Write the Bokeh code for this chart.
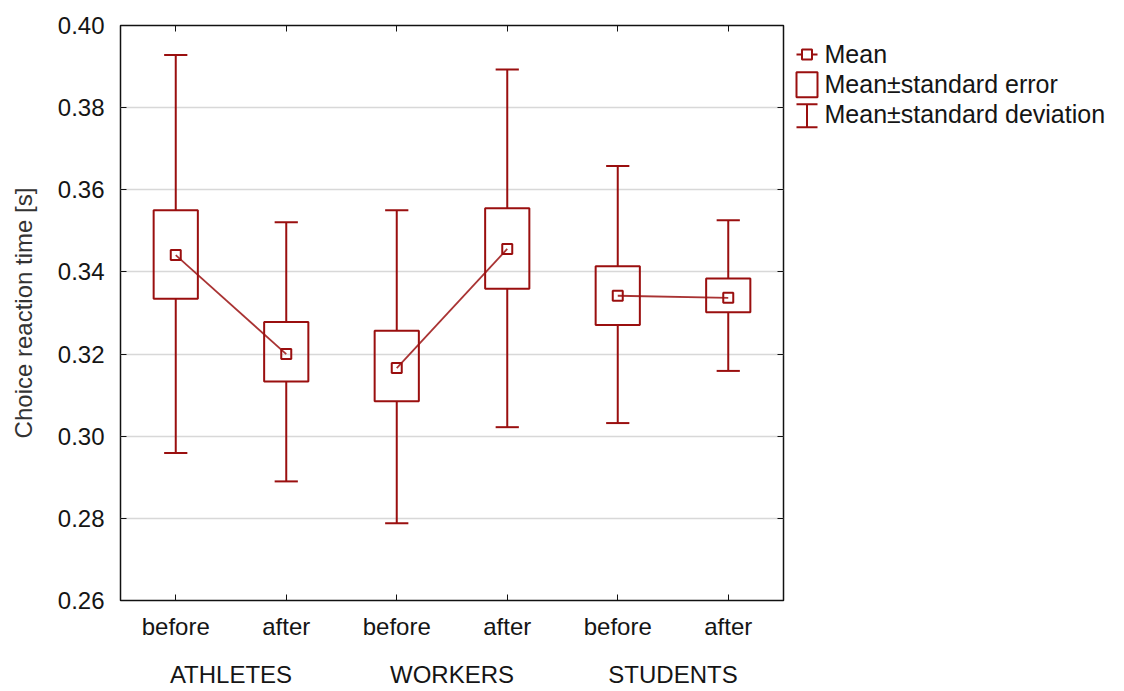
from bokeh.plotting import figure
from bokeh.models import Range1d, LinearAxis, FixedTicker, ColumnDataSource, PrintfTickFormatter
from bokeh.layouts import row
from bokeh.transform import dodge
from bokeh.embed import file_html
from bokeh.resources import INLINE
from bokeh.core.properties import value

# ---------------- data ----------------
groups = ["ATHLETES", "WORKERS", "STUDENTS"]
phases = ["before", "after"]
mean_vals = [0.3441, 0.3200, 0.3166, 0.3456, 0.3342, 0.3337]
se_hi = [0.3550, 0.3278, 0.3257, 0.3555, 0.3414, 0.3384]
se_lo = [0.3335, 0.3133, 0.3085, 0.3359, 0.3271, 0.3302]
sd_hi = [0.3928, 0.3521, 0.3550, 0.3893, 0.3658, 0.3526]
sd_lo = [0.2959, 0.2890, 0.2788, 0.3022, 0.3032, 0.3159]
y_ticks = [0.26, 0.28, 0.30, 0.32, 0.34, 0.36, 0.38, 0.40]
y_title = "Choice reaction time [s]"
legend_labels = ["Mean", "Mean\u00b1standard error", "Mean\u00b1standard deviation"]

RED = "#9a0f0f"
FONT = "Liberation Sans"
TXT = "#151515"

n = len(groups) * len(phases)
xpos = [i + 0.5 for i in range(n)]
src = ColumnDataSource(dict(x=xpos, mean=mean_vals, se_hi=se_hi, se_lo=se_lo,
                            sd_hi=sd_hi, sd_lo=sd_lo))

BL, BT, BR, BB = 120, 25, 8, 88
FW, FH = 663, 575
W = BL + FW + BR
H = BT + FH + BB

p = figure(frame_width=FW, frame_height=FH, x_range=Range1d(0, n),
           y_range=Range1d(y_ticks[0], y_ticks[-1]),
           min_border_left=BL, min_border_top=BT, min_border_right=BR, min_border_bottom=BB,
           output_backend="svg", toolbar_location=None, align="start")
p.outline_line_color = "#111111"
p.outline_line_width = 1.5
p.background_fill_color = "white"

# y axis (left)
ya = p.yaxis[0]
ya.ticker = FixedTicker(ticks=y_ticks)
ya.formatter = PrintfTickFormatter(format="%.2f")
ya.major_tick_in = 6
ya.major_tick_out = 0
ya.minor_tick_line_color = None
ya.axis_line_color = None
ya.major_tick_line_color = "#111111"
ya.major_label_standoff = 16
ya.major_label_text_font = FONT
ya.major_label_text_font_size = "24px"
ya.major_label_text_color = TXT
ya.axis_label = y_title
ya.axis_label_text_font = FONT
ya.axis_label_text_font_size = "24px"
ya.axis_label_text_font_style = "normal"
ya.axis_label_text_color = "#333333"
ya.axis_label_standoff = 18

# x axis (bottom, phases)
xa = p.xaxis[0]
xa.ticker = FixedTicker(ticks=xpos)
xa.major_label_overrides = {x: phases[i % len(phases)] for i, x in enumerate(xpos)}
xa.major_tick_in = 6
xa.major_tick_out = 0
xa.minor_tick_line_color = None
xa.axis_line_color = None
xa.major_tick_line_color = "#111111"
xa.major_label_standoff = 12
xa.major_label_text_font = FONT
xa.major_label_text_font_size = "24px"
xa.major_label_text_color = TXT

# group labels (second bottom axis)
gpos = [2 * g + 1 for g in range(len(groups))]
ga = LinearAxis(ticker=FixedTicker(ticks=gpos),
                major_label_overrides={gp: groups[i] for i, gp in enumerate(gpos)},
                major_tick_in=0, major_tick_out=0, minor_tick_line_color=None,
                axis_line_color=None, major_tick_line_color=None,
                major_label_standoff=18, major_label_text_font=FONT,
                major_label_text_font_size="24px", major_label_text_color=TXT)
p.add_layout(ga, "below")

# top and right axes: inward ticks only
ta = LinearAxis(ticker=FixedTicker(ticks=xpos),
                major_label_overrides={x: "" for x in xpos},
                major_label_text_font_size="0px", major_label_standoff=0,
                major_tick_in=6, major_tick_out=0, minor_tick_line_color=None,
                axis_line_color=None, major_tick_line_color="#111111")
p.add_layout(ta, "above")
ra = LinearAxis(ticker=FixedTicker(ticks=y_ticks),
                major_label_overrides={t: "" for t in y_ticks},
                major_label_text_font_size="0px", major_label_standoff=0,
                major_tick_in=6, major_tick_out=0, minor_tick_line_color=None,
                axis_line_color=None, major_tick_line_color="#111111")
p.add_layout(ra, "right")

p.xgrid.visible = False
p.ygrid.ticker = FixedTicker(ticks=y_ticks[1:-1])
p.ygrid.grid_line_color = "#d8d8d8"
p.ygrid.grid_line_width = 1.5

# SE boxes
p.quad(left=dodge("x", -0.2), right=dodge("x", 0.2), top="se_hi", bottom="se_lo",
       fill_color=None, line_color=RED, line_width=2, source=src)
# SD whiskers
p.segment(x0="x", y0="se_hi", x1="x", y1="sd_hi", line_color=RED, line_width=2, source=src)
p.segment(x0="x", y0="se_lo", x1="x", y1="sd_lo", line_color=RED, line_width=2, source=src)
p.segment(x0=dodge("x", -0.105), y0="sd_hi", x1=dodge("x", 0.105), y1="sd_hi",
          line_color=RED, line_width=2, source=src)
p.segment(x0=dodge("x", -0.105), y0="sd_lo", x1=dodge("x", 0.105), y1="sd_lo",
          line_color=RED, line_width=2, source=src)
# mean lines within each group
k = len(phases)
for g in range(len(groups)):
    p.line(x=xpos[g * k:(g + 1) * k], y=mean_vals[g * k:(g + 1) * k],
           line_color=RED, line_width=1.8, line_alpha=0.85)
p.scatter(x="x", y="mean", marker="square", size=10, fill_color=None,
          line_color=RED, line_width=2, source=src)

# ---------------- legend (separate panel; its frame shares the main frame's rows) ----
LW = 1124 - 2 - W
lf = figure(width=LW, height=H, x_range=Range1d(W, W + LW), y_range=Range1d(BT + FH, BT),
            min_border=0, x_axis_type=None, y_axis_type=None,
            output_backend="svg", toolbar_location=None, align="start")
lf.outline_line_color = None
lf.grid.visible = False
ox = 796
iw = 21
cx = ox + iw / 2
# Mean icon
lf.segment(x0=[ox], y0=[54], x1=[ox + iw], y1=[54], line_color=RED, line_width=2)
lf.scatter(x=[cx], y=[54], marker="square", size=10, fill_color="white",
           line_color=RED, line_width=2)
# SE icon
lf.quad(left=[ox], right=[ox + iw], top=[72], bottom=[97], fill_color=None,
        line_color=RED, line_width=2)
# SD icon
lf.segment(x0=[cx], y0=[104], x1=[cx], y1=[127], line_color=RED, line_width=2)
lf.segment(x0=[ox, ox], y0=[104, 127], x1=[ox + iw, ox + iw], y1=[104, 127],
           line_color=RED, line_width=2)
lf.text(x=[ox + 28] * 3, y=[54, 84, 113.5], text=legend_labels,
        text_font=value(FONT), text_font_size="25px", text_baseline="alphabetic",
        text_color=TXT)

layout = row(p, lf)
open("out.html", "w").write(file_html(layout, INLINE))
